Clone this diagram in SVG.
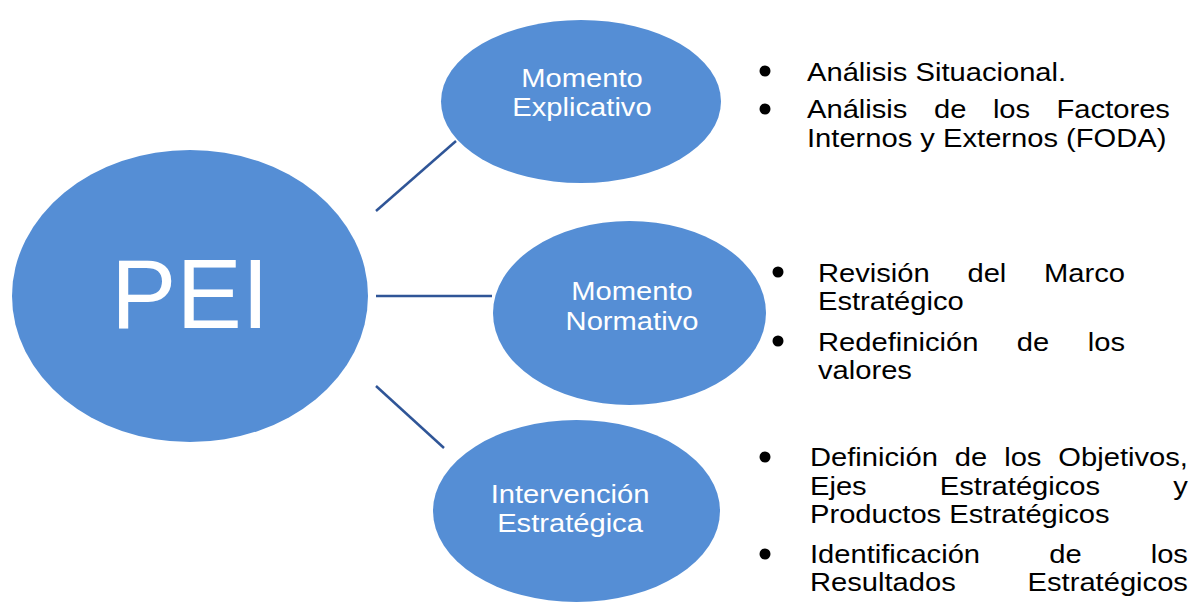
<svg xmlns="http://www.w3.org/2000/svg" width="1204" height="603" viewBox="0 0 1204 603">
<style>
.node{fill:#558ED5;}
.lbl{font-family:"Liberation Sans",Arial,sans-serif;font-size:26.5px;fill:#FFFFFF;text-anchor:middle;}
.pei{font-family:"Liberation Sans",Arial,sans-serif;font-size:98px;fill:#FFFFFF;text-anchor:middle;}
.conn{stroke:#2F5597;stroke-width:2.5;fill:none;}
.bt{font-family:"Liberation Sans",Arial,sans-serif;font-size:26.5px;fill:#000000;}
.dot{fill:#000000;}
</style>
<rect width="1204" height="603" fill="#FFFFFF"/>
<g id="connectors">
<line class="conn" x1="376" y1="211" x2="456" y2="141"/>
<line class="conn" x1="376" y1="296" x2="492" y2="296"/>
<line class="conn" x1="376" y1="386" x2="444" y2="448"/>
</g>
<g id="node-pei">
<ellipse class="node" cx="190" cy="296" rx="178" ry="146"/>
<text class="pei" x="190" y="328">PEI</text>
</g>
<g id="node-explicativo">
<ellipse class="node" cx="581" cy="101.5" rx="140" ry="81.5"/>
<text class="lbl" transform="translate(582 0) scale(1.1 1)"><tspan x="0" y="87">Momento</tspan><tspan x="0" y="116">Explicativo</tspan></text>
</g>
<g id="node-normativo">
<ellipse class="node" cx="629.5" cy="313" rx="136.5" ry="92"/>
<text class="lbl" transform="translate(632 0) scale(1.1 1)"><tspan x="0" y="300">Momento</tspan><tspan x="0" y="330">Normativo</tspan></text>
</g>
<g id="node-intervencion">
<ellipse class="node" cx="576.5" cy="511" rx="143.5" ry="91"/>
<text class="lbl" transform="translate(570 0) scale(1.1 1)"><tspan x="0" y="503">Intervención</tspan><tspan x="0" y="532">Estratégica</tspan></text>
</g>
<g id="list-explicativo">
<circle class="dot" cx="765" cy="71" r="5.5"/>
<circle class="dot" cx="765" cy="109" r="5.5"/>
<g transform="translate(807 0) scale(1.1 1)">
<text class="bt" x="0" y="81">Análisis Situacional.</text>
<text class="bt"><tspan x="0" y="118">Análisis</tspan><tspan x="115.4" y="118">de</tspan><tspan x="169" y="118">los</tspan><tspan x="226.9" y="118">Factores</tspan><tspan x="0" y="147">Internos y Externos (FODA)</tspan></text>
</g>
</g>
<g id="list-normativo">
<circle class="dot" cx="778" cy="272" r="5.5"/>
<circle class="dot" cx="778" cy="341" r="5.5"/>
<g transform="translate(818 0) scale(1.1 1)">
<text class="bt"><tspan x="0" y="282">Revisión</tspan><tspan x="135.85" y="282">del</tspan><tspan x="205.5" y="282">Marco</tspan><tspan x="0" y="310">Estratégico</tspan></text>
<text class="bt"><tspan x="0" y="351">Redefinición</tspan><tspan x="180.75" y="351">de</tspan><tspan x="245.2" y="351">los</tspan><tspan x="0" y="379">valores</tspan></text>
</g>
</g>
<g id="list-intervencion">
<circle class="dot" cx="765" cy="457" r="5.5"/>
<circle class="dot" cx="765" cy="554" r="5.5"/>
<g transform="translate(810 0) scale(1.1 1)">
<text class="bt"><tspan x="0" y="466">Definición</tspan><tspan x="131.67" y="466">de</tspan><tspan x="176.54" y="466">los</tspan><tspan x="225.8" y="466">Objetivos,</tspan><tspan x="0" y="495">Ejes</tspan><tspan x="118" y="495">Estratégicos</tspan><tspan x="330.35" y="495">y</tspan><tspan x="0" y="523">Productos Estratégicos</tspan></text>
<text class="bt"><tspan x="0" y="563">Identificación</tspan><tspan x="217.45" y="563">de</tspan><tspan x="309.7" y="563">los</tspan><tspan x="0" y="591">Resultados</tspan><tspan x="197.8" y="591">Estratégicos</tspan></text>
</g>
</g>
</svg>
